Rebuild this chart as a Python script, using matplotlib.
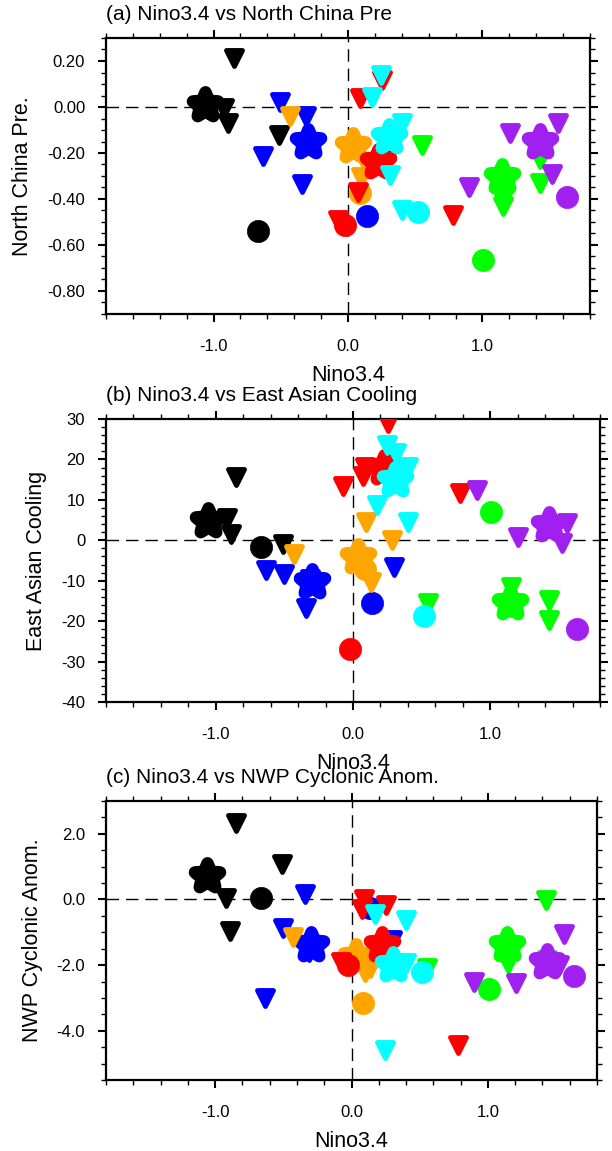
import matplotlib
matplotlib.use("Agg")
import matplotlib.pyplot as plt
from matplotlib.markers import MarkerStyle
from matplotlib.path import Path
from matplotlib.ticker import MultipleLocator, FixedLocator, FormatStrFormatter

plt.rcParams['font.family'] = ['Liberation Sans', 'DejaVu Sans']
plt.rcParams['axes.unicode_minus'] = False

# group colours, in drawing order
groups = ["black", "blue", "orange", "red", "green", "purple", "cyan"]
group_colors = {"black": "#000000", "blue": "#0000FF", "orange": "#FFA500",
                "red": "#FF0000", "green": "#00FF00", "purple": "#A020F0",
                "cyan": "#00FFFF"}

# individual members (triangles)
tri_group = ["black", "black", "black", "black",
             "blue", "blue", "blue", "blue", "blue",
             "orange", "orange", "orange", "orange",
             "red", "red", "red", "red", "red",
             "green", "green", "green", "green", "green",
             "purple", "purple", "purple", "purple",
             "cyan", "cyan", "cyan", "cyan", "cyan"]
tri_nino = [-0.85, -0.92, -0.89, -0.51,
            -0.633, -0.503, -0.343, -0.31, 0.30,
            -0.43, 0.097, 0.284, 0.134,
            0.255, 0.09, 0.075, -0.075, 0.78,
            0.55, 1.15, 1.15, 1.425, 1.43,
            0.90, 1.205, 1.56, 1.52,
            0.247, 0.175, 0.40, 0.40, 0.31]
tri_ncp = [0.213, -0.005, -0.068, -0.122,
           -0.214, 0.023, -0.336, -0.039, -0.20,
           -0.039, -0.306, -0.24, -0.25,
           0.118, 0.038, -0.37, -0.493, -0.47,
           -0.166, -0.40, -0.43, -0.224, -0.33,
           -0.35, -0.115, -0.069, -0.29,
           0.137, 0.045, -0.069, -0.45, -0.297]
tri_eac = [15.7, 5.4, 1.6, -1.0,
           -7.35, -8.3, -16.8, -9.5, -6.5,
           -3.4, 4.4, 0.07, -10.2,
           29.0, 18.2, 16.0, 13.4, 11.6,
           -15.4, -11.5, -16.5, -14.8, -19.7,
           12.4, 0.9, 4.2, -0.7,
           23.6, 8.7, 18.2, 4.6, 21.5]
tri_nwp = [2.32, 0.03, -0.96, 1.08,
           -2.99, -0.88, 0.18, -1.6, -1.24,
           -1.14, -2.2, -1.9, -2.1,
           -0.17, 0.0, -0.3, -1.9, -4.44,
           -2.1, -1.95, -1.75, -0.02, -1.85,
           -2.5, -2.56, -1.06, -2.0,
           -4.6, -0.43, -0.63, -1.95, -2.1]

# group means (stars)
star_group = ["black", "blue", "orange", "red", "green", "purple", "cyan"]
star_nino = [-1.06, -0.30, 0.035, 0.224, 1.143, 1.43, 0.306]
star_ncp = [0.01, -0.152, -0.17, -0.239, -0.304, -0.151, -0.13]
star_eac = [4.8, -10.2, -4.1, 17.8, -15.6, 3.8, 14.9]
star_nwp = [0.71, -1.39, -1.75, -1.39, -1.39, -1.9, -2.0]

# circles
circ_group = ["black", "blue", "orange", "red", "green", "purple", "cyan"]
circ_nino = [-0.667, 0.138, 0.087, -0.024, 1.005, 1.63, 0.52]
circ_ncp = [-0.537, -0.476, -0.374, -0.515, -0.665, -0.39, -0.457]
circ_eac = [-1.6, -15.6, -7.0, -26.9, 6.9, -22.0, -18.7]
circ_nwp = [0.05, -0.25, -3.15, -2.0, -2.74, -2.34, -2.2]

tri_marker = MarkerStyle("v", joinstyle="round")
star_marker = MarkerStyle(Path.unit_regular_star(5, 0.45), joinstyle="round")


def scatter_panel(ax, tri_y, star_y, circ_y, title, ylabel, ylim, ymajor, yminor, yfmt):
    ax.axhline(0, color="black", lw=1, ls=(0, (9, 5)), zorder=1)
    ax.axvline(0, color="black", lw=1, ls=(0, (9, 5)), zorder=1)
    for g in groups:
        c = group_colors[g]
        xs = [x for x, gg in zip(tri_nino, tri_group) if gg == g]
        ys = [y for y, gg in zip(tri_y, tri_group) if gg == g]
        ax.plot(xs, ys, ls="none", marker=tri_marker, ms=11, mfc=c, mec=c, mew=3.5, zorder=3)
        xs = [x for x, gg in zip(star_nino, star_group) if gg == g]
        ys = [y for y, gg in zip(star_y, star_group) if gg == g]
        ax.plot(xs, ys, ls="none", marker=star_marker, ms=19, mfc=c, mec=c, mew=9, zorder=3)
        xs = [x for x, gg in zip(circ_nino, circ_group) if gg == g]
        ys = [y for y, gg in zip(circ_y, circ_group) if gg == g]
        ax.plot(xs, ys, ls="none", marker="o", ms=16, mfc=c, mec=c, mew=0.5, zorder=3)

    ax.set_xlim(-1.8, 1.8)
    ax.set_ylim(*ylim)
    ax.xaxis.set_major_locator(FixedLocator([-1.0, 0.0, 1.0]))
    ax.xaxis.set_minor_locator(MultipleLocator(0.2))
    ax.xaxis.set_major_formatter(FormatStrFormatter("%.1f"))
    ax.yaxis.set_major_locator(MultipleLocator(ymajor))
    ax.yaxis.set_minor_locator(MultipleLocator(yminor))
    ax.yaxis.set_major_formatter(FormatStrFormatter(yfmt))
    ax.tick_params(which="both", direction="out", top=True, right=True,
                   labelsize=12)
    ax.tick_params(which="major", length=6, width=1.5)
    ax.tick_params(which="minor", length=3.5, width=1)
    ax.tick_params(axis="x", which="major", pad=12)
    ax.tick_params(axis="y", which="major", pad=9)
    for sp in ax.spines.values():
        sp.set_linewidth(1.6)
    ax.set_xlabel("Nino3.4", fontsize=15.5, labelpad=8)
    ax.set_ylabel(ylabel, fontsize=15.5, labelpad=10)
    ax.annotate(title, (0, 1), xycoords="axes fraction", xytext=(0, 13),
                textcoords="offset points", fontsize=15, ha="left", va="baseline")


fig = plt.figure(figsize=(6.12, 11.51), dpi=100)
ax_a = fig.add_axes([106/612, 1 - 314/1151, 484/612, 276/1151])
ax_b = fig.add_axes([106/612, 1 - 702/1151, 494/612, 283/1151])
ax_c = fig.add_axes([106/612, 1 - 1080/1151, 491/612, 279/1151])

scatter_panel(ax_a, tri_ncp, star_ncp, circ_ncp, "(a) Nino3.4 vs North China Pre",
              "North China Pre.", (-0.9, 0.3), 0.2, 0.05, "%.2f")
scatter_panel(ax_b, tri_eac, star_eac, circ_eac, "(b) Nino3.4 vs East Asian Cooling",
              "East Asian Cooling", (-40, 30), 10, 2, "%d")
scatter_panel(ax_c, tri_nwp, star_nwp, circ_nwp, "(c) Nino3.4 vs NWP Cyclonic Anom.",
              "NWP Cyclonic Anom.", (-5.5, 3.0), 2.0, 0.5, "%.1f")

fig.savefig("out.png", dpi=100)
plt.close(fig)
